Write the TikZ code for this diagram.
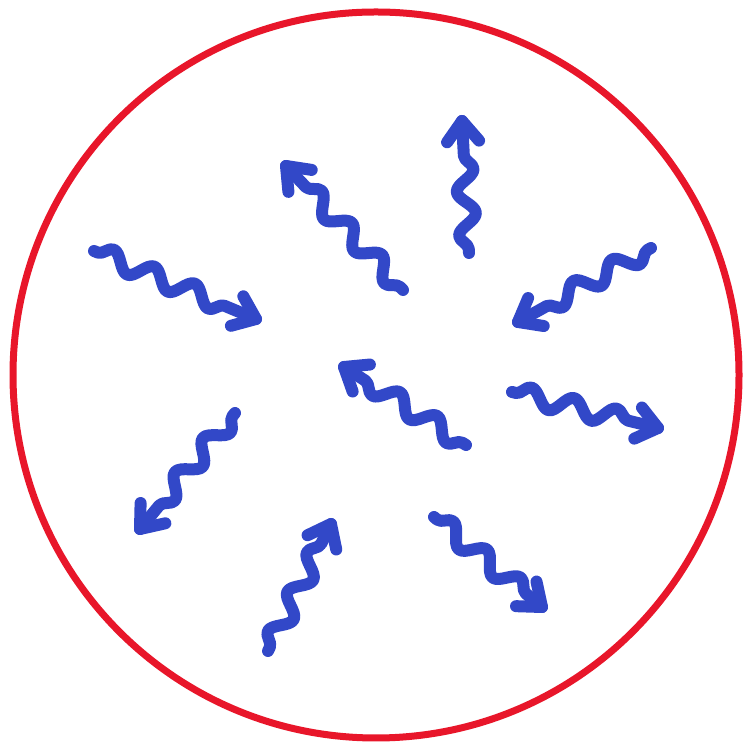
\documentclass[tikz,border=0pt]{standalone}
\usetikzlibrary{decorations.pathmorphing,calc}
\definecolor{ringred}{RGB}{232,22,42}
\definecolor{wblue}{RGB}{50,72,200}
\begin{document}
\begin{tikzpicture}[x=1pt,y=1pt,
  wave/.style={wblue, line width=12pt, line cap=round, line join=round,
    decorate, decoration={snake, amplitude=9pt, segment length=44pt, pre length=4pt, post length=14pt}},
  head/.style={wblue, line width=12pt, line cap=round, line join=round},
  ring/.style={draw=ringred, line width=7pt}]
\useasboundingbox (0,0) rectangle (747,751);
\node[circle, ring, minimum size=726pt, inner sep=0pt] (c) at (376,376) {};
% endpoints (y = 751 - pixel y)
\coordinate (s1) at (94,500);  \coordinate (e1) at (256,432);
\coordinate (s2) at (403,461); \coordinate (e2) at (286,585);
\coordinate (s3) at (469,498); \coordinate (e3) at (462,630);
\coordinate (s4) at (651,503); \coordinate (e4) at (518,429);
\coordinate (s5) at (512,359); \coordinate (e5) at (658,323);
\coordinate (s6) at (466,306); \coordinate (e6) at (344,384);
\coordinate (s7) at (235,338); \coordinate (e7) at (140,222);
\coordinate (s8) at (268,100); \coordinate (e8) at (331,227);
\coordinate (s9) at (434,234); \coordinate (e9) at (542,144);
\foreach \i in {1,...,9} {
  \draw[wave] (s\i) -- (e\i);
  \draw[head] ($(e\i)!26pt!38:(s\i)$) -- (e\i) -- ($(e\i)!26pt!-38:(s\i)$);
}
\end{tikzpicture}
\end{document}
